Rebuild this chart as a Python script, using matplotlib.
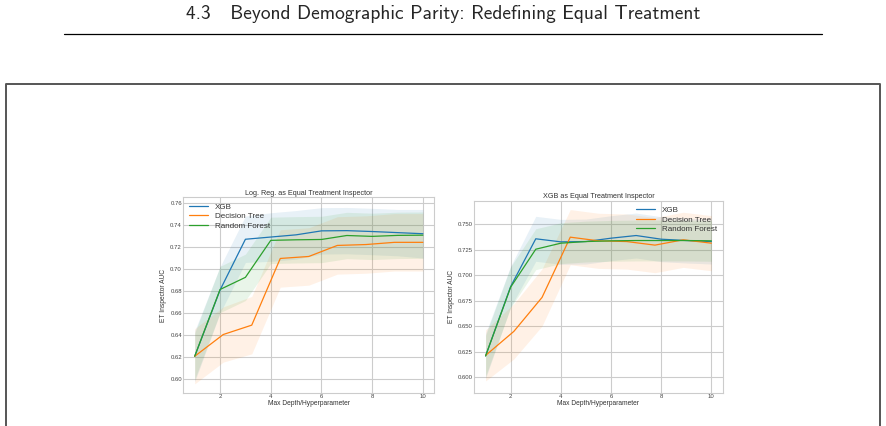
import matplotlib
matplotlib.use("Agg")
import matplotlib.pyplot as plt
import numpy as np

# x positions
depth = [1, 2, 3, 4, 5, 6, 7, 8, 9, 10]
dt_x = [1, 2.125, 3.25, 4.375, 5.5, 6.625, 7.75, 8.875, 10]

# Log. Reg. as inspector
lr_xgb = [0.621, 0.681, 0.727, 0.729, 0.731, 0.7346, 0.7348, 0.734, 0.733, 0.732]
lr_xgb_std = [0.023, 0.021, 0.021, 0.022, 0.022, 0.021, 0.021, 0.021, 0.021, 0.022]
lr_dt = [0.621, 0.6407, 0.6492, 0.7096, 0.7114, 0.7214, 0.7222, 0.7242, 0.7242]
lr_dt_std = [0.025, 0.025, 0.026, 0.026, 0.026, 0.026, 0.026, 0.026, 0.026]
lr_rf = [0.621, 0.6815, 0.6925, 0.726, 0.7265, 0.7268, 0.7304, 0.7296, 0.7305, 0.7307]
lr_rf_std = [0.021, 0.021, 0.021, 0.021, 0.021, 0.021, 0.021, 0.021, 0.021, 0.021]

# XGB as inspector
xg_xgb = [0.621, 0.689, 0.7357, 0.7327, 0.733, 0.7363, 0.7389, 0.7353, 0.734, 0.733]
xg_xgb_std = [0.022, 0.02, 0.022, 0.022, 0.022, 0.022, 0.022, 0.022, 0.022, 0.022]
xg_dt = [0.6215, 0.645, 0.6783, 0.7373, 0.7337, 0.733, 0.7295, 0.7347, 0.7314]
xg_dt_std = [0.025, 0.027, 0.028, 0.027, 0.027, 0.027, 0.027, 0.027, 0.027]
xg_rf = [0.621, 0.6884, 0.7255, 0.7314, 0.733, 0.7337, 0.734, 0.734, 0.734, 0.7337]
xg_rf_std = [0.02, 0.02, 0.02, 0.02, 0.02, 0.02, 0.02, 0.02, 0.02, 0.02]

names = ["XGB", "Decision Tree", "Random Forest"]
colors = ["#1f77b4", "#ff7f0e", "#2ca02c"]

plt.style.use("seaborn-v0_8-whitegrid")
fig = plt.figure(figsize=(8.87, 4.26), dpi=100)

# page header
fig.text(0.5, 1 - 14 / 426, "4.3   Beyond Demographic Parity: Redefining Equal Treatment",
         ha="center", va="center", fontsize=14, family=["cmss10", "DejaVu Sans"])
fig.add_artist(plt.Line2D([64 / 887, 822 / 887], [1 - 34 / 426, 1 - 34 / 426],
                          color="black", lw=0.9, transform=fig.transFigure))
# figure frame
fx0, fx1, fy = 6.5 / 887, 880 / 887, 1 - 84 / 426
fig.add_artist(plt.Line2D([fx0, fx0, fx1, fx1], [-0.1, fy, fy, -0.1],
                          color="#555555", lw=1.4, transform=fig.transFigure))


def panel(ax, series, title, ylim, yticks, yfmt, legend_loc):
    for (x, y, s), name, c in zip(series, names, colors):
        y = np.array(y)
        s = np.array(s)
        ax.plot(x, y, color=c, lw=0.9, label=name)
        ax.fill_between(x, y - s, y + s, color=c, alpha=0.1, lw=0)
    ax.set_xlim(0.55, 10.45)
    ax.set_ylim(*ylim)
    ax.set_xticks([2, 4, 6, 8, 10])
    ax.set_yticks(yticks)
    ax.set_yticklabels([yfmt % v for v in yticks])
    ax.tick_params(labelsize=4.3, pad=1, colors="#444444")
    ax.set_title(title, fontsize=5.2, pad=2, color="#333333")
    ax.set_xlabel("Max Depth/Hyperparameter", fontsize=4.8, labelpad=1, color="#333333")
    ax.set_ylabel("ET Inspector AUC", fontsize=4.8, labelpad=2, color="#333333")
    for sp in ax.spines.values():
        sp.set_visible(True)
        sp.set_color("#cccccc")
        sp.set_linewidth(0.8)
    ax.grid(True, color="#cccccc", lw=0.8)
    leg = ax.legend(loc=legend_loc, fontsize=5.8, frameon=False, handlelength=2.4,
                    borderaxespad=0.3, labelspacing=0.25)
    for t in leg.get_texts():
        t.set_color("#333333")


ax1 = fig.add_axes([183.3 / 887, 1 - 392.7 / 426, 251 / 887, 195.4 / 426])
panel(ax1, [(depth, lr_xgb, lr_xgb_std), (dt_x, lr_dt, lr_dt_std), (depth, lr_rf, lr_rf_std)],
      "Log. Reg. as Equal Treatment Inspector", (0.588, 0.765),
      [0.60, 0.62, 0.64, 0.66, 0.68, 0.70, 0.72, 0.74, 0.76], "%.2f", "upper left")

ax2 = fig.add_axes([474.3 / 887, 1 - 392.7 / 426, 248.4 / 887, 192 / 426])
panel(ax2, [(depth, xg_xgb, xg_xgb_std), (dt_x, xg_dt, xg_dt_std), (depth, xg_rf, xg_rf_std)],
      "XGB as Equal Treatment Inspector", (0.585, 0.773),
      [0.600, 0.625, 0.650, 0.675, 0.700, 0.725, 0.750], "%.3f", "upper right")

fig.savefig("out.png", dpi=100)
